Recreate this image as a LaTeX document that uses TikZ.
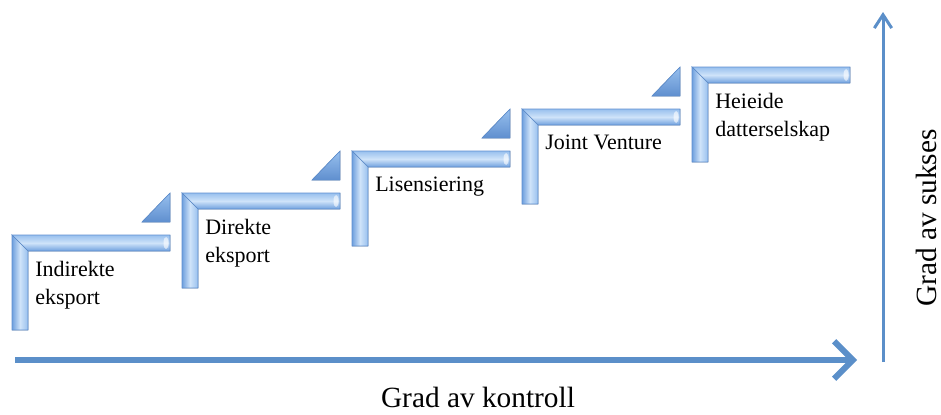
\documentclass[tikz,border=0pt]{standalone}
\usepackage{fontspec}
\setmainfont{Liberation Serif}
\usetikzlibrary{arrows.meta}
\definecolor{baredge}{HTML}{5F8FCF}
\definecolor{bardark}{HTML}{6FA0DE}
\definecolor{barmid}{HTML}{98C0EE}
\definecolor{barlight}{HTML}{CFE3F9}
\definecolor{axisblue}{HTML}{5B8FC9}

\begin{document}
\begin{tikzpicture}[x=0.75pt, y=-0.75pt,
steplabel/.style={anchor=north west, inner sep=0pt, align=left,
      font=\fontsize{16.5}{21}\selectfont, text=black},
axislabel/.style={inner sep=0pt, font=\fontsize{22}{24}\selectfont},
axis/.style={draw=axisblue, line width=4.5pt, -{Straight Barb[length=14pt, width=28pt]}},
stair/.pic={
  \filldraw[draw=baredge, line width=0.5pt, top color=barmid, bottom color=bardark, middle color=barlight]
     (0,0) -- (158,0) -- (158,16) -- (16,16) -- cycle;
  \filldraw[draw=baredge, line width=0.5pt, left color=bardark, right color=barmid, middle color=barlight]
     (0,0) -- (16,16) -- (16,95) -- (0,95) -- cycle;
  \fill[white, opacity=0.6] (154,8) ellipse (2.5 and 6);
  \coordinate (-in) at (23,26);},
stairtip/.pic={
  \filldraw[draw=baredge, line width=0.5pt, top color=barmid, bottom color=baredge]
     (130,-13) -- (158,-13) -- (158,-42) -- cycle;}]
 \useasboundingbox (0,0) rectangle (941,414);

 \pic (s1) at (12,235) {stair};
 \pic at (12,235) {stairtip};
 \pic (s2) at (182,193) {stair};
 \pic at (182,193) {stairtip};
 \pic (s3) at (352,151) {stair};
 \pic at (352,151) {stairtip};
 \pic (s4) at (522,109) {stair};
 \pic at (522,109) {stairtip};
 \pic (s5) at (692,67) {stair};

 \node[steplabel] (indirekte) at (s1-in) {Indirekte\\eksport};
 \node[steplabel] (direkte) at (s2-in) {Direkte\\eksport};
 \node[steplabel] (lisens) at (s3-in) {Lisensiering};
 \node[steplabel] (joint) at (s4-in) {Joint Venture};
 \node[steplabel] (heleid) at (s5-in) {Heieide\\datterselskap};

 \coordinate (kstart) at (15,360);
 \coordinate (kend) at (857,360);
 \coordinate (sstart) at (883,362);
 \coordinate (send) at (883,12);
 \draw[axis] (kstart) -- (kend);
 \draw[axis, line width=2.25pt, -{Straight Barb[length=10pt, width=13pt]}] (sstart) -- (send);

 \node[axislabel, anchor=base] (kontroll) at (478,407) {Grad av kontroll};
 \node[axislabel, anchor=base, rotate=90] (suksess) at (936,218) {Grad av sukses};
 \end{tikzpicture}
\end{document}
